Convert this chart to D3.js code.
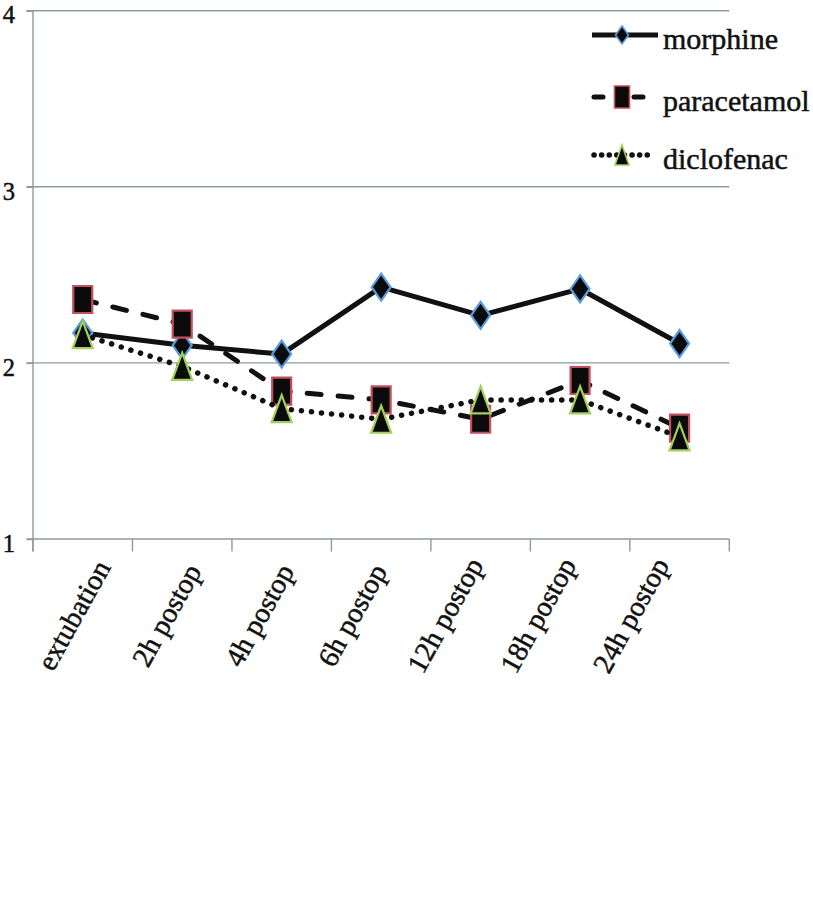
<!DOCTYPE html>
<html><head><meta charset="utf-8">
<script src="https://cdn.jsdelivr.net/npm/d3@7"></script>
<style>body{margin:0;background:#fff}svg{display:block}</style>
</head><body><svg id="c" width="813" height="914"></svg>
<script>
// ---- data ----
const categories = ["extubation","2h postop","4h postop","6h postop","12h postop","18h postop","24h postop"];
const morphine    = [2.17, 2.10, 2.05, 2.43, 2.27, 2.42, 2.11];
const paracetamol = [2.36, 2.22, 1.84, 1.79, 1.68, 1.90, 1.63];
const diclofenac  = [2.16, 1.98, 1.74, 1.68, 1.79, 1.79, 1.58];
const yTicks = [1, 2, 3, 4];
const seriesNames = ["morphine", "paracetamol", "diclofenac"];

// ---- styles ----
const FONT = "'Liberation Serif', 'Times New Roman', serif";
const gridColor = "#8e9b9c";
const styles = {
  morphine:    {dash: null,       cap: "butt",  width: 5, marker: "diamond",  stroke: "#5a9be0"},
  paracetamol: {dash: "14 17",    cap: "round", width: 5, marker: "square",   stroke: "#c4505e"},
  diclofenac:  {dash: "0.1 10",   cap: "round", width: 5.5, marker: "triangle", stroke: "#a3d05a"}
};
const legendDash = {morphine: null, paracetamol: "9 31", diclofenac: "0.1 7.5"};

const svg = d3.select("#c");
const x = d3.scaleBand().domain(categories).range([33, 729.3]);
const labelX = d3.scaleBand().domain(categories).range([27, 677]);
const y = d3.scaleLinear().domain([1, 4]).range([539, 10.7]);

// gridlines
svg.append("g").selectAll("line").data(yTicks.filter(d => d > 1)).join("line")
  .attr("x1", 26.5).attr("x2", 729.3)
  .attr("y1", d => y(d)).attr("y2", d => y(d))
  .attr("stroke", gridColor).attr("stroke-width", 1.4);

// y axis
const yAxis = svg.append("g").attr("transform", "translate(33,0)")
  .call(d3.axisLeft(y).tickValues(yTicks).tickSize(6.5).tickFormat(d3.format("d")));
yAxis.select(".domain").attr("stroke", gridColor).attr("stroke-width", 1.4)
  .attr("d", `M0,${y(4)}V${y(1) + 12.5}`);
yAxis.selectAll(".tick line").attr("stroke", gridColor).attr("stroke-width", 1.4);
yAxis.selectAll(".tick text").attr("font-family", FONT).attr("font-size", 24.5)
  .attr("fill", "#111").attr("stroke", "#111").attr("stroke-width", 0.5)
  .attr("x", -18).attr("dy", "0.5em");

// x axis
const tickPos = categories.map(c => x(c)).concat([x.range()[1]]);
const xAxis = svg.append("g");
xAxis.append("line").attr("x1", 26.5).attr("x2", x.range()[1])
  .attr("y1", y(1)).attr("y2", y(1)).attr("stroke", gridColor).attr("stroke-width", 1.4);
xAxis.selectAll("line.t").data(tickPos).join("line").attr("class", "t")
  .attr("x1", d => d).attr("x2", d => d).attr("y1", y(1)).attr("y2", y(1) + 12.5)
  .attr("stroke", gridColor).attr("stroke-width", 1.4);
xAxis.selectAll("text").data(categories).join("text")
  .attr("transform", d => `translate(${labelX(d) + labelX.bandwidth() / 2},615) rotate(-61)`)
  .attr("text-anchor", "middle").attr("dy", "0.35em")
  .attr("font-family", FONT).attr("font-size", 28.5).attr("fill", "#111")
  .attr("stroke", "#111").attr("stroke-width", 0.5)
  .text(d => d);

// marker shapes
function markerPath(type, w, h) {
  const a = w / 2, b = h / 2;
  if (type === "diamond") return `M0,${-b}L${a},0L0,${b}L${-a},0Z`;
  if (type === "square") return `M${-a},${-b}H${a}V${b}H${-a}Z`;
  return `M0,${-b}L${a},${b}H${-a}Z`;
}

const dataBySeries = {morphine, paracetamol, diclofenac};
const line = d3.line().x((d, i) => x(categories[i]) + x.bandwidth() / 2).y(d => y(d));

seriesNames.forEach(name => {
  const st = styles[name];
  const vals = dataBySeries[name];
  const g = svg.append("g");
  g.append("path").datum(vals).attr("d", line)
    .attr("fill", "none").attr("stroke", "#111").attr("stroke-width", st.width)
    .attr("stroke-linecap", st.cap).attr("stroke-linejoin", "round")
    .attr("stroke-dasharray", st.dash);
  g.selectAll("path.m").data(vals).join("path").attr("class", "m")
    .attr("d", markerPath(st.marker, st.marker === "triangle" ? 20 : 19, 27))
    .attr("transform", (d, i) => `translate(${x(categories[i]) + x.bandwidth() / 2},${y(d)})`)
    .attr("fill", "#0b0b0b").attr("stroke", st.stroke).attr("stroke-width", 2.2)
    .attr("stroke-linejoin", "miter");
});

// legend
const legend = svg.append("g").attr("transform", "translate(592,0)");
const rowY = [35, 97, 155];
const legendMarker = {morphine: [13, 18], paracetamol: [15, 22], diclofenac: [14, 20]};
seriesNames.forEach((name, i) => {
  const st = styles[name];
  const gy = rowY[i];
  legend.append("line").attr("x1", name === "morphine" ? 0 : 2).attr("x2", name === "morphine" ? 66 : 58)
    .attr("y1", gy).attr("y2", gy).attr("stroke", "#111").attr("stroke-width", st.width)
    .attr("stroke-linecap", st.cap).attr("stroke-dasharray", legendDash[name]);
  const [w, h] = legendMarker[name];
  legend.append("path").attr("d", markerPath(st.marker, w, h))
    .attr("transform", `translate(30,${gy})`)
    .attr("fill", "#0b0b0b").attr("stroke", st.stroke).attr("stroke-width", 1.6);
  legend.append("text").attr("x", 71).attr("y", gy + 14)
    .attr("font-family", FONT).attr("font-size", 30).attr("fill", "#111")
    .attr("stroke", "#111").attr("stroke-width", 0.5).text(name);
});
</script></body></html>
